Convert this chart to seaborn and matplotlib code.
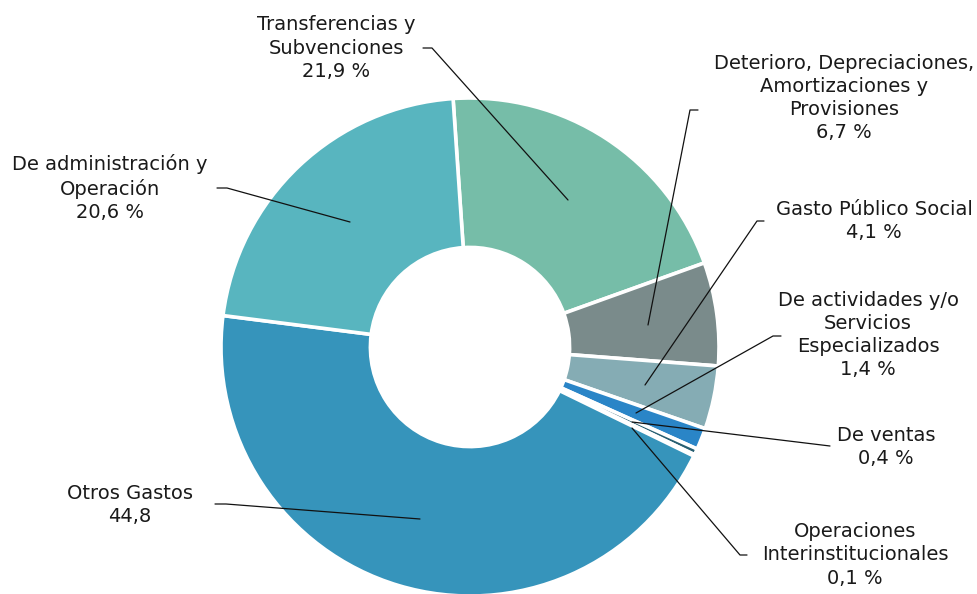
import matplotlib
matplotlib.use("Agg")
import matplotlib.pyplot as plt
import seaborn as sns

sns.set_theme(style="white")
plt.rcParams['font.family'] = ['DejaVu Sans']

# wedge order (clockwise from top)
categories = ["Transferencias y Subvenciones",
              "Deterioro, Depreciaciones, Amortizaciones y Provisiones",
              "Gasto Público Social",
              "De actividades y/o Servicios Especializados",
              "De ventas",
              "Operaciones Interinstitucionales",
              "Otros Gastos",
              "De administración y Operación"]
# slice sizes as drawn in the picture
values = [20.6, 6.7, 4.1, 1.4, 0.4, 0.1, 44.8, 21.9]
# label texts as printed
label_texts = ["Transferencias y\nSubvenciones\n21,9 %",
               "Deterioro, Depreciaciones,\nAmortizaciones y\nProvisiones\n6,7 %",
               "Gasto Público Social\n4,1 %",
               "De actividades y/o\nServicios\nEspecializados\n1,4 %",
               "De ventas\n0,4 %",
               "Operaciones\nInterinstitucionales\n0,1 %",
               "Otros Gastos\n44,8",
               "De administración y\nOperación\n20,6 %"]
colors = ["#76BDA8", "#7A8B8B", "#85ACB4", "#2A85C7",
          "#285F72", "#2E6F86", "#3694BB", "#58B5BF"]

W, H = 977, 594
fig = plt.figure(figsize=(W / 100, H / 100), dpi=100)
ax = fig.add_axes([0, 0, 1, 1])

cx, cy, R = 470, 347, 249
ax.pie(values, colors=colors, startangle=93.9, counterclock=False,
       center=(cx, H - cy), radius=R,
       wedgeprops=dict(width=R * 0.6, edgecolor="white", linewidth=2.6))
ax.set_xlim(0, W)
ax.set_ylim(0, H)
ax.set_aspect("equal")
ax.axis("off")

# label layout: (text center x, first line center y), leader polyline (pixel coords, y down)
layout = [
    ((336, 24), [(423, 48), (432, 48), (568, 200)]),
    ((844, 62), [(698, 110), (690, 110), (648, 325)]),
    ((874, 209), [(764, 221), (757, 221), (645, 385)]),
    ((868, 299), [(781, 336), (773, 336), (636, 413)]),
    ((886, 435), [(830, 446), (632, 422)]),
    ((855, 531), [(747, 555), (740, 555), (632, 428)]),
    ((130, 493), [(215, 504), (226, 504), (420, 519)]),
    ((110, 164), [(217, 188), (227, 188), (350, 222)]),
]
for txt, ((tx, ty), pts) in zip(label_texts, layout):
    nlines = txt.count("\n") + 1
    yc = ty + (nlines - 1) * 12
    ax.text(tx, H - yc, txt, ha="center", va="center", fontsize=14,
            color="#1a1a1a", linespacing=1.27)
    xs = [p[0] for p in pts]
    ys = [H - p[1] for p in pts]
    ax.plot(xs, ys, color="#111111", lw=0.9)

fig.savefig("out.png", dpi=100)
